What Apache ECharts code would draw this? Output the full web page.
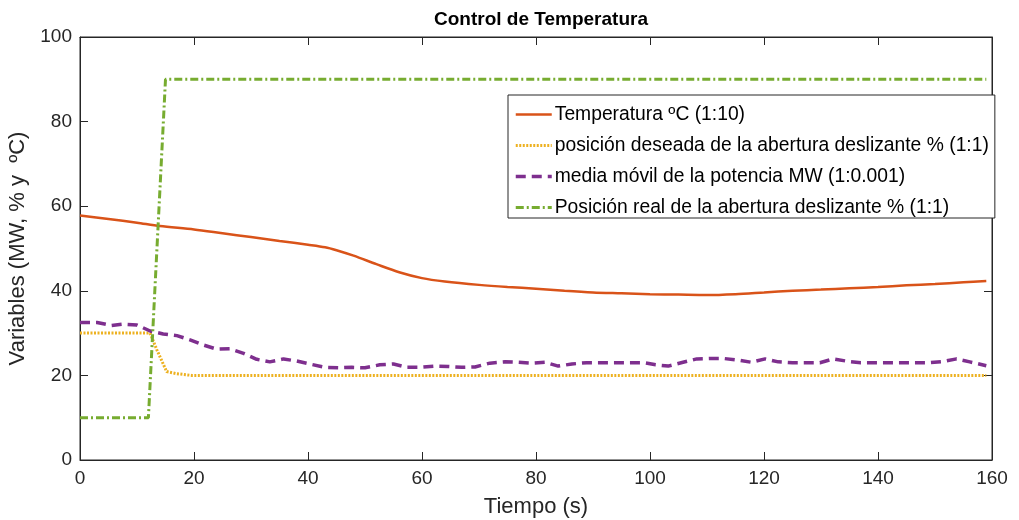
<!DOCTYPE html>
<html>
<head>
<meta charset="utf-8">
<script src="https://cdn.jsdelivr.net/npm/echarts@6/dist/echarts.min.js"></script>
<style>
  html, body { margin: 0; padding: 0; background: #fff; }
  #chart { width: 1019px; height: 520px; }
</style>
</head>
<body>
<div id="chart"></div>
<script>
// data
const xTicks = [0, 20, 40, 60, 80, 100, 120, 140, 160];
const yTicks = [0, 20, 40, 60, 80, 100];

const tempTime = [0, 5, 10, 14, 20, 25, 30, 35, 40, 43, 45, 48, 52, 56, 60, 64, 70, 75, 80, 85, 90, 95, 100, 105, 110, 115, 120, 125, 130, 135, 140, 145, 150, 155, 159];
const tempValue = [57.8, 57.0, 56.1, 55.3, 54.5, 53.6, 52.7, 51.8, 50.9, 50.3, 49.6, 48.3, 46.3, 44.4, 43.0, 42.2, 41.4, 40.9, 40.5, 40.0, 39.6, 39.4, 39.2, 39.1, 39.0, 39.2, 39.6, 40.0, 40.3, 40.6, 40.9, 41.3, 41.6, 42.0, 42.3];

const setTime = [0, 12.3, 13.5, 15.2, 17, 19.6, 159];
const setValue = [30, 30, 26, 20.9, 20.4, 20, 20];

const powerTime = [0, 3, 5.5, 7.5, 10, 12.3, 14.6, 17, 19.3, 21.6, 24, 26.3, 28.7, 31, 33.3, 35.7, 38, 40.6, 43, 45.3, 47.7, 50, 52.6, 55, 57.3, 59.6, 62.3, 64.6, 67, 69.3, 71.9, 74.6, 76.9, 79.3, 81.6, 83.9, 86.3, 88.9, 91.3, 93.7, 96, 98.9, 101, 103.2, 105.8, 108.2, 110.6, 112.9, 115.5, 117.8, 120.2, 122.5, 125, 127.5, 129.8, 132.2, 134.8, 137, 139.5, 141.9, 144.3, 146.7, 149, 151.5, 153.8, 156.1, 159];
const powerValue = [32.5, 32.5, 31.8, 32.1, 31.9, 30.5, 29.8, 29.4, 28.4, 27.2, 26.2, 26.3, 25.2, 23.8, 23.2, 23.9, 23.4, 22.6, 21.9, 21.8, 21.9, 21.8, 22.5, 22.7, 21.9, 21.9, 22.2, 22.1, 21.9, 22.0, 22.9, 23.2, 23.1, 22.9, 23.1, 22.2, 22.7, 23.0, 23.0, 23.0, 23.0, 23.0, 22.5, 22.2, 23.1, 23.9, 24.0, 24.0, 23.6, 23.1, 23.9, 23.2, 23.0, 23.0, 23.0, 23.9, 23.3, 23.0, 23.0, 23.0, 23.0, 23.0, 23.0, 23.3, 23.9, 23.2, 22.3];

const gateTime = [0, 12, 15, 159];
const gateValue = [10, 10, 90, 90];

const seriesNames = [
  'Temperatura ºC (1:10)',
  'posición deseada de la abertura deslizante % (1:1)',
  'media móvil de la potencia MW (1:0.001)',
  'Posición real de la abertura deslizante % (1:1)'
];

const pairs = (t, v) => t.map((x, i) => [x, v[i]]);

const font = '"Liberation Sans", Arial, sans-serif';
const ink = '#262626';

const chart = echarts.init(document.getElementById('chart'));

const baseAxis = () => ({
  type: 'value',
  min: 0,
  interval: 20,
  axisLine: { show: true, onZero: false, lineStyle: { color: ink, width: 1 } },
  axisTick: { show: true, inside: true, length: 8, lineStyle: { color: ink } },
  splitLine: { show: false }
});

chart.setOption({
  animation: false,
  backgroundColor: '#fff',
  textStyle: { fontFamily: font },
  title: {
    text: 'Control de Temperatura',
    left: 536,
    textAlign: 'center',
    top: 5,
    textStyle: { fontFamily: font, fontSize: 19, fontWeight: 'bold', color: '#000' }
  },
  grid: {
    left: 80, right: 27, top: 37, bottom: 60,
    containLabel: false,
    outerBoundsMode: 'none',
    show: true,
    borderColor: ink,
    borderWidth: 1
  },
  legend: {
    orient: 'vertical',
    left: 508,
    top: 95,
    itemWidth: 36,
    itemHeight: 14,
    itemGap: 12,
    padding: [10, 6, 1, 6],
    borderColor: ink,
    borderWidth: 1,
    backgroundColor: '#fff',
    data: seriesNames,
    itemStyle: { color: 'rgba(0,0,0,0)', borderColor: 'rgba(0,0,0,0)', borderWidth: 0, opacity: 0 },
    lineStyle: { width: 'inherit' },
    textStyle: { fontFamily: font, fontSize: 19.3, color: '#000', padding: [0, 0, 0, -2] }
  },
  xAxis: [
    Object.assign(baseAxis(), {
      max: 160,
      position: 'bottom',
      name: 'Tiempo (s)',
      nameLocation: 'middle',
      nameGap: 36,
      nameTextStyle: { fontFamily: font, fontSize: 22, color: ink },
      axisLabel: { fontFamily: font, fontSize: 19, color: ink, margin: 9, formatter: v => xTicks.includes(v) ? String(v) : '' }
    }),
    Object.assign(baseAxis(), {
      max: 160,
      position: 'top',
      axisLabel: { show: false }
    })
  ],
  yAxis: [
    Object.assign(baseAxis(), {
      max: 100,
      position: 'left',
      name: 'Variables (MW, % y  ºC)',
      nameLocation: 'middle',
      nameGap: 43,
      nameTextStyle: { fontFamily: font, fontSize: 22, color: ink },
      axisLabel: { fontFamily: font, fontSize: 19, color: ink, margin: 8, formatter: v => yTicks.includes(v) ? String(v) : '' }
    }),
    Object.assign(baseAxis(), {
      max: 100,
      position: 'right',
      axisLabel: { show: false }
    })
  ],
  series: [
    {
      name: seriesNames[0],
      type: 'line',
      data: pairs(tempTime, tempValue),
      smooth: 0.3,
      symbol: 'none',
      color: '#D95319',
      lineStyle: { width: 2.5, color: '#D95319' }
    },
    {
      name: seriesNames[1],
      type: 'line',
      data: pairs(setTime, setValue),
      symbol: 'none',
      color: '#EDB120',
      lineStyle: { width: 3, color: '#EDB120', type: [2, 1.5] }
    },
    {
      name: seriesNames[2],
      type: 'line',
      data: pairs(powerTime, powerValue),
      symbol: 'none',
      color: '#7E2F8E',
      lineStyle: { width: 3.5, color: '#7E2F8E', type: [10, 6] }
    },
    {
      name: seriesNames[3],
      type: 'line',
      data: pairs(gateTime, gateValue),
      symbol: 'none',
      color: '#77AC30',
      lineStyle: { width: 3, color: '#77AC30', type: [8, 3, 2, 3] }
    }
  ]
});
</script>
</body>
</html>
